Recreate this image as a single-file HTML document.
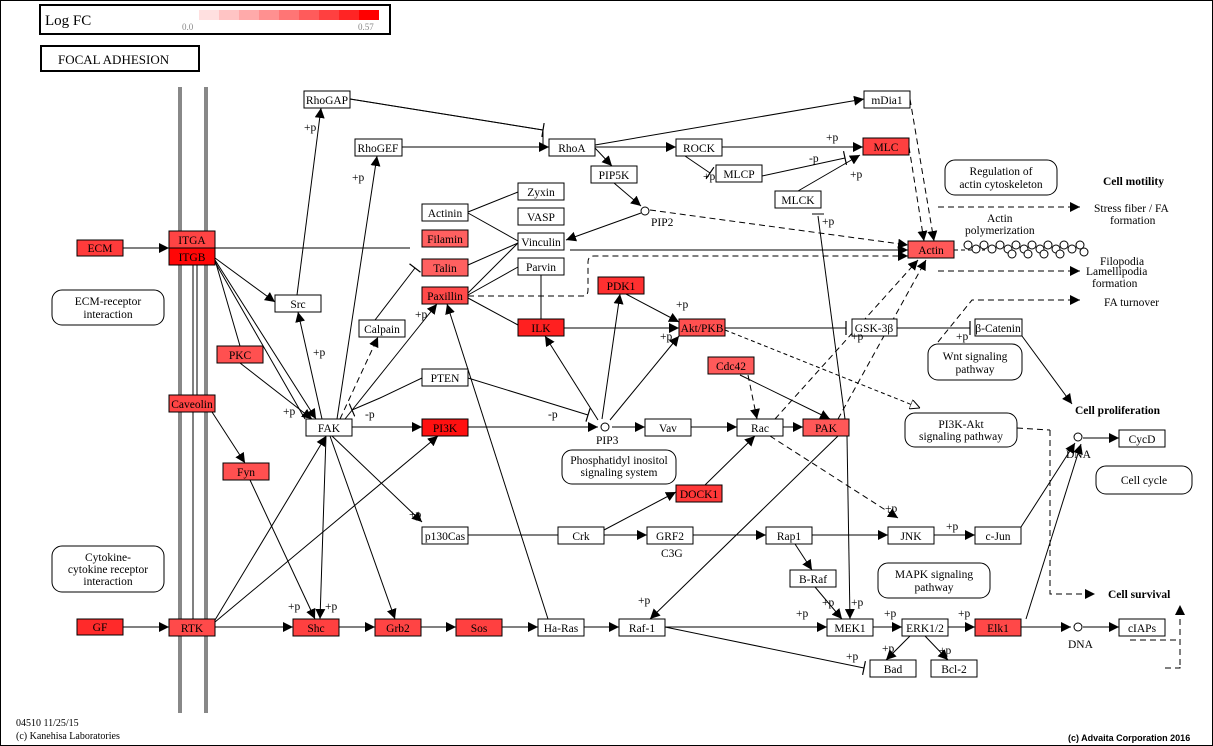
<!DOCTYPE html>
<html><head><meta charset="utf-8"><style>
html,body{margin:0;padding:0;background:#fff}
svg{display:block}
text{font-family:"Liberation Serif",serif;font-size:11.5px;fill:#000}
.b{fill:#fff;stroke:#000;stroke-width:1}
.r{stroke:#000;stroke-width:1}
.l{stroke:#000;stroke-width:1;fill:none}
.d{stroke:#000;stroke-width:1;fill:none;stroke-dasharray:6,4}
.rb{fill:#fff;stroke:#000;stroke-width:1}
</style></head><body>
<svg width="1213" height="746" viewBox="0 0 1213 746" xmlns="http://www.w3.org/2000/svg">
<defs>
<marker id="a" viewBox="0 0 10 10" refX="10" refY="5" markerWidth="10" markerHeight="10" markerUnits="userSpaceOnUse" orient="auto"><path d="M0,0L10,5L0,10z" fill="#000"/></marker>
<marker id="o" viewBox="0 0 10 10" refX="10" refY="5" markerWidth="10" markerHeight="10" markerUnits="userSpaceOnUse" orient="auto"><path d="M0,0L10,5L0,10z" fill="#fff" stroke="#000"/></marker>
<marker id="t" viewBox="0 0 4 14" refX="2" refY="7" markerWidth="4" markerHeight="14" markerUnits="userSpaceOnUse" orient="auto"><path d="M2,0L2,14" stroke="#000" stroke-width="1.2"/></marker>
</defs>
<rect x="0.5" y="0.5" width="1212" height="745" fill="#fff" stroke="#000"/>
<!-- legend -->
<rect x="40" y="5" width="350" height="29" fill="#fff" stroke="#000" stroke-width="2"/>
<text x="45" y="25" style="font-size:15px">Log FC</text>
<g>
<rect x="199" y="10" width="20" height="10" fill="#ffe0e0"/><rect x="219" y="10" width="20" height="10" fill="#ffc4c4"/><rect x="239" y="10" width="20" height="10" fill="#ffaaaa"/><rect x="259" y="10" width="20" height="10" fill="#ff9090"/><rect x="279" y="10" width="20" height="10" fill="#ff7575"/><rect x="299" y="10" width="20" height="10" fill="#ff5b5b"/><rect x="319" y="10" width="20" height="10" fill="#ff4040"/><rect x="339" y="10" width="20" height="10" fill="#ff2424"/><rect x="359" y="10" width="20" height="10" fill="#ff0000"/>
</g>
<text x="182" y="30" style="font-size:9px;fill:#888">0.0</text><text x="358" y="30" style="font-size:9px;fill:#888">0.57</text>
<rect x="41" y="46" width="158" height="25" fill="#fff" stroke="#000" stroke-width="2"/>
<text x="58" y="64" style="font-size:13px">FOCAL  ADHESION</text>
<!-- membrane -->
<rect x="178" y="87" width="4" height="626" fill="#888"/><rect x="204" y="87" width="4" height="626" fill="#888"/>
<line class="l" x1="193" y1="265" x2="193" y2="395"/><line class="l" x1="197" y1="265" x2="197" y2="395"/>
<line class="l" x1="193" y1="412" x2="193" y2="619"/>

<!-- edges -->
<g>
<line class="l" x1="123" y1="248" x2="169" y2="248" marker-end="url(#a)"/>
<line class="l" x1="215" y1="248" x2="410" y2="248"/>
<line class="l" x1="215" y1="258" x2="275" y2="302" marker-end="url(#a)"/>
<line class="l" x1="215" y1="260" x2="240" y2="346"/>
<line class="l" x1="215" y1="260" x2="316" y2="419" marker-end="url(#a)"/>
<line class="l" x1="215" y1="262" x2="305" y2="419"/>
<line class="l" x1="240" y1="363" x2="312" y2="419" marker-end="url(#a)"/>
<line class="l" x1="212" y1="412" x2="245" y2="463" marker-end="url(#a)"/>
<line class="l" x1="250" y1="480" x2="315" y2="619" marker-end="url(#a)"/>
<line class="l" x1="322" y1="419" x2="298" y2="312" marker-end="url(#a)"/>
<line class="l" x1="297" y1="295" x2="321" y2="108" marker-end="url(#a)"/>
<line class="l" x1="337" y1="419" x2="377" y2="156" marker-end="url(#a)"/>
<line class="d" x1="340" y1="419" x2="378" y2="337" marker-end="url(#a)"/>
<line class="l" x1="345" y1="419" x2="437" y2="304" marker-end="url(#a)"/>
<line class="l" x1="375" y1="320" x2="415" y2="268" marker-end="url(#t)"/>
<line class="l" x1="352" y1="427" x2="422" y2="427" marker-end="url(#a)"/>
<polyline class="l" points="422,378 380,398 352,410" marker-end="url(#t)"/>
<line class="l" x1="332" y1="436" x2="422" y2="522" marker-end="url(#a)"/>
<line class="l" x1="326" y1="436" x2="320" y2="619" marker-end="url(#a)"/>
<line class="l" x1="330" y1="436" x2="395" y2="619" marker-end="url(#a)"/>
<line class="l" x1="215" y1="620" x2="326" y2="436" marker-end="url(#a)"/>
<line class="l" x1="215" y1="622" x2="438" y2="436" marker-end="url(#a)"/>
<line class="l" x1="123" y1="627" x2="169" y2="627" marker-end="url(#a)"/>
<line class="l" x1="215" y1="627" x2="293" y2="627" marker-end="url(#a)"/>
<line class="l" x1="339" y1="627" x2="375" y2="627" marker-end="url(#a)"/>
<line class="l" x1="421" y1="627" x2="456" y2="627" marker-end="url(#a)"/>
<line class="l" x1="502" y1="627" x2="538" y2="627" marker-end="url(#a)"/>
<line class="l" x1="584" y1="627" x2="619" y2="627" marker-end="url(#a)"/>
<line class="l" x1="548" y1="619" x2="447" y2="304" marker-end="url(#a)"/>
<line class="l" x1="468" y1="535" x2="558" y2="535"/>
<line class="l" x1="604" y1="535" x2="647" y2="535" marker-end="url(#a)"/>
<line class="l" x1="693" y1="535" x2="766" y2="535" marker-end="url(#a)"/>
<line class="l" x1="812" y1="535" x2="888" y2="535" marker-end="url(#a)"/>
<line class="l" x1="934" y1="535" x2="975" y2="535" marker-end="url(#a)"/>
<line class="l" x1="1021" y1="527" x2="1075" y2="443" marker-end="url(#a)"/>
<line class="l" x1="604" y1="530" x2="676" y2="492" marker-end="url(#a)"/>
<line class="l" x1="705" y1="485" x2="755" y2="436" marker-end="url(#a)"/>
<line class="d" x1="770" y1="436" x2="898" y2="518" marker-end="url(#a)"/>
<line class="l" x1="795" y1="544" x2="812" y2="570" marker-end="url(#a)"/>
<line class="l" x1="815" y1="587" x2="842" y2="619" marker-end="url(#a)"/>
<line class="l" x1="665" y1="627" x2="827" y2="627" marker-end="url(#a)"/>
<polyline class="l" points="665,627 864,668" marker-end="url(#t)"/>
<line class="l" x1="873" y1="627" x2="902" y2="627" marker-end="url(#a)"/>
<line class="l" x1="948" y1="627" x2="975" y2="627" marker-end="url(#a)"/>
<line class="l" x1="1021" y1="627" x2="1071" y2="627" marker-end="url(#a)"/>
<line class="l" x1="1083" y1="627" x2="1119" y2="627" marker-end="url(#a)"/>
<line class="l" x1="1026" y1="619" x2="1081" y2="444" marker-end="url(#a)"/>
<line class="l" x1="910" y1="636" x2="886" y2="660" marker-end="url(#a)"/>
<line class="l" x1="925" y1="636" x2="948" y2="660" marker-end="url(#a)"/>
<line class="l" x1="838" y1="436" x2="650" y2="619" marker-end="url(#a)"/>
<line class="l" x1="847" y1="436" x2="850" y2="619" marker-end="url(#a)"/>
<line class="l" x1="818" y1="216" x2="845" y2="419"/>
<line class="l" x1="812" y1="214" x2="824" y2="214"/>
<line class="d" x1="748" y1="375" x2="757" y2="419" marker-end="url(#a)"/>
<line class="l" x1="740" y1="375" x2="830" y2="419" marker-end="url(#a)"/>
<line class="l" x1="783" y1="427" x2="803" y2="427" marker-end="url(#a)"/>
<line class="l" x1="691" y1="427" x2="737" y2="427" marker-end="url(#a)"/>
<line class="l" x1="612" y1="427" x2="645" y2="427" marker-end="url(#a)"/>
<line class="l" x1="468" y1="427" x2="598" y2="427" marker-end="url(#a)"/>
<line class="l" x1="468" y1="378" x2="588" y2="415" marker-end="url(#t)"/>
<line class="l" x1="598" y1="420" x2="545" y2="336" marker-end="url(#a)"/>
<line class="l" x1="602" y1="419" x2="620" y2="294" marker-end="url(#a)"/>
<line class="l" x1="610" y1="420" x2="679" y2="336" marker-end="url(#a)"/>
<line class="l" x1="564" y1="328" x2="679" y2="328" marker-end="url(#a)"/>
<line class="l" x1="626" y1="294" x2="679" y2="322" marker-end="url(#a)"/>
<line class="l" x1="725" y1="328" x2="846" y2="328" marker-end="url(#t)"/>
<line class="l" x1="896" y1="328" x2="970" y2="328" marker-end="url(#t)"/>
<line class="l" x1="1022" y1="336" x2="1072" y2="404" marker-end="url(#a)"/>
<line class="d" x1="725" y1="330" x2="920" y2="408" marker-end="url(#o)" style="stroke-dasharray:4,3"/>
<line class="d" x1="1017" y1="428" x2="1050" y2="430"/>
<polyline class="d" points="1050,430 1050,594 1095,594" marker-end="url(#a)"/>
<line class="d" x1="775" y1="419" x2="918" y2="260" marker-end="url(#a)"/>
<line class="d" x1="838" y1="419" x2="926" y2="260" marker-end="url(#a)"/>
<line class="d" x1="1130" y1="640" x2="1180" y2="640"/>
<line class="d" x1="1180" y1="665" x2="1180" y2="605" marker-end="url(#a)"/>
<polyline class="d" points="1165,668 1180,668 1180,660"/>
<!-- top -->
<polyline class="l" points="350,99 543,130 543,147"/>
<line class="l" x1="350" y1="99" x2="543" y2="130" marker-end="url(#t)"/>
<line class="l" x1="402" y1="147" x2="549" y2="147" marker-end="url(#a)"/>
<line class="l" x1="595" y1="147" x2="676" y2="147" marker-end="url(#a)"/>
<line class="l" x1="595" y1="145" x2="864" y2="99" marker-end="url(#a)"/>
<line class="l" x1="595" y1="148" x2="612" y2="166" marker-end="url(#a)"/>
<line class="l" x1="722" y1="147" x2="863" y2="147" marker-end="url(#a)"/>
<line class="l" x1="685" y1="156" x2="710" y2="173" marker-end="url(#t)"/>
<line class="l" x1="762" y1="176" x2="845" y2="158" marker-end="url(#t)"/>
<line class="l" x1="798" y1="191" x2="860" y2="155" marker-end="url(#a)"/>
<line class="d" x1="909" y1="147" x2="924" y2="241" marker-end="url(#a)"/>
<line class="d" x1="910" y1="99" x2="934" y2="241" marker-end="url(#a)"/>
<line class="l" x1="614" y1="183" x2="641" y2="206" marker-end="url(#a)"/>
<line class="l" x1="641" y1="213" x2="566" y2="240" marker-end="url(#a)"/>
<line class="d" x1="650" y1="210" x2="908" y2="245" marker-end="url(#a)"/>
<line class="l" x1="570" y1="250" x2="908" y2="250" marker-end="url(#a)"/>
<path class="d" d="M468,296 L583,296 Q588,296 588,290 L588,262 Q588,256 594,256 L908,256" marker-end="url(#a)"/>
<line class="l" x1="468" y1="212" x2="518" y2="192"/>
<line class="l" x1="468" y1="213" x2="518" y2="241"/>
<line class="l" x1="468" y1="265" x2="518" y2="243"/>
<line class="l" x1="468" y1="293" x2="518" y2="243"/>
<line class="l" x1="468" y1="295" x2="518" y2="267"/>
<line class="l" x1="468" y1="298" x2="518" y2="325"/>
<line class="l" x1="541" y1="275" x2="541" y2="319"/>
<line class="d" x1="954" y1="250" x2="985" y2="250" style="stroke-dasharray:4,3"/>
<line class="d" x1="938" y1="207" x2="1080" y2="207" marker-end="url(#a)"/>
<line class="d" x1="938" y1="271" x2="1080" y2="271" marker-end="url(#a)"/>
<polyline class="d" points="938,342 972,300 1080,300" marker-end="url(#a)"/>
<line class="l" x1="1083" y1="438" x2="1119" y2="438" marker-end="url(#a)"/>
</g>
<!-- actin polymerization circles -->
<g fill="#fff" stroke="#000">
<circle cx="968" cy="245" r="4"/><circle cx="976" cy="249" r="4"/><circle cx="984" cy="245" r="4"/><circle cx="992" cy="249" r="4"/><circle cx="1000" cy="245" r="4"/><circle cx="1008" cy="249" r="4"/><circle cx="1016" cy="245" r="4"/><circle cx="1024" cy="249" r="4"/><circle cx="1032" cy="245" r="4"/><circle cx="1040" cy="249" r="4"/><circle cx="1048" cy="245" r="4"/><circle cx="1056" cy="249" r="4"/><circle cx="1064" cy="245" r="4"/><circle cx="1072" cy="249" r="4"/><circle cx="1080" cy="245" r="4"/><circle cx="1084" cy="252" r="4"/><circle cx="1060" cy="254" r="4"/><circle cx="1044" cy="254" r="4"/><circle cx="1028" cy="254" r="4"/><circle cx="1012" cy="254" r="4"/>
<circle cx="645" cy="211" r="4"/><circle cx="605" cy="427" r="4"/><circle cx="1078" cy="437" r="4"/><circle cx="1078" cy="627" r="4"/>
</g>
<!-- nodes -->
<g>
<rect x="77" y="240" width="46" height="16" class="r" fill="#ff3b3b"/><text x="100" y="252" text-anchor="middle">ECM</text>
<rect x="169" y="231" width="46" height="17" class="r" fill="#ff4444"/><text x="192" y="244" text-anchor="middle">ITGA</text>
<rect x="169" y="248" width="46" height="17" class="r" fill="#ff0606"/><text x="192" y="261" text-anchor="middle">ITGB</text>
<rect x="77" y="619" width="46" height="16" class="r" fill="#ff2a2a"/><text x="100" y="631" text-anchor="middle">GF</text>
<rect x="169" y="619" width="46" height="17" class="r" fill="#ff4a4a"/><text x="192" y="632" text-anchor="middle">RTK</text>
<rect x="217" y="346" width="46" height="17" class="r" fill="#ff5050"/><text x="240" y="359" text-anchor="middle">PKC</text>
<rect x="169" y="395" width="46" height="17" class="r" fill="#ff4444"/><text x="192" y="408" text-anchor="middle">Caveolin</text>
<rect x="223" y="463" width="46" height="17" class="r" fill="#ff5050"/><text x="246" y="476" text-anchor="middle">Fyn</text>
<rect x="304" y="91" width="46" height="17" class="b"/><text x="327" y="104" text-anchor="middle">RhoGAP</text>
<rect x="355" y="139" width="47" height="17" class="b"/><text x="378" y="152" text-anchor="middle">RhoGEF</text>
<rect x="275" y="295" width="46" height="17" class="b"/><text x="298" y="308" text-anchor="middle">Src</text>
<rect x="359" y="320" width="46" height="17" class="b"/><text x="382" y="333" text-anchor="middle">Calpain</text>
<rect x="306" y="419" width="46" height="17" class="b"/><text x="329" y="432" text-anchor="middle">FAK</text>
<rect x="422" y="204" width="46" height="17" class="b"/><text x="445" y="217" text-anchor="middle">Actinin</text>
<rect x="422" y="230" width="46" height="17" class="r" fill="#ff6060"/><text x="445" y="243" text-anchor="middle">Filamin</text>
<rect x="422" y="259" width="46" height="17" class="r" fill="#ff6060"/><text x="445" y="272" text-anchor="middle">Talin</text>
<rect x="422" y="287" width="46" height="17" class="r" fill="#ff4a4a"/><text x="445" y="300" text-anchor="middle">Paxillin</text>
<rect x="422" y="369" width="46" height="17" class="b"/><text x="445" y="382" text-anchor="middle">PTEN</text>
<rect x="422" y="419" width="46" height="17" class="r" fill="#ff1010"/><text x="445" y="432" text-anchor="middle">PI3K</text>
<rect x="518" y="183" width="46" height="17" class="b"/><text x="541" y="196" text-anchor="middle">Zyxin</text>
<rect x="518" y="208" width="46" height="17" class="b"/><text x="541" y="221" text-anchor="middle">VASP</text>
<rect x="518" y="233" width="46" height="17" class="b"/><text x="541" y="246" text-anchor="middle">Vinculin</text>
<rect x="518" y="258" width="46" height="17" class="b"/><text x="541" y="271" text-anchor="middle">Parvin</text>
<rect x="518" y="319" width="46" height="17" class="r" fill="#ff2020"/><text x="541" y="332" text-anchor="middle">ILK</text>
<rect x="549" y="139" width="46" height="17" class="b"/><text x="572" y="152" text-anchor="middle">RhoA</text>
<rect x="591" y="166" width="46" height="17" class="b"/><text x="614" y="179" text-anchor="middle">PIP5K</text>
<rect x="676" y="139" width="46" height="17" class="b"/><text x="699" y="152" text-anchor="middle">ROCK</text>
<rect x="716" y="165" width="46" height="17" class="b"/><text x="739" y="178" text-anchor="middle">MLCP</text>
<rect x="863" y="138" width="46" height="17" class="r" fill="#ff4040"/><text x="886" y="151" text-anchor="middle">MLC</text>
<rect x="864" y="91" width="46" height="17" class="b"/><text x="887" y="104" text-anchor="middle">mDia1</text>
<rect x="775" y="191" width="46" height="17" class="b"/><text x="798" y="204" text-anchor="middle">MLCK</text>
<rect x="908" y="241" width="46" height="17" class="r" fill="#ff5858"/><text x="931" y="254" text-anchor="middle">Actin</text>
<rect x="598" y="277" width="46" height="17" class="r" fill="#ff3030"/><text x="621" y="290" text-anchor="middle">PDK1</text>
<rect x="679" y="319" width="46" height="17" class="r" fill="#ff5050"/><text x="702" y="332" text-anchor="middle">Akt/PKB</text>
<rect x="852" y="319" width="45" height="17" class="b"/><text x="874" y="332" text-anchor="middle">GSK-3β</text>
<rect x="975" y="319" width="47" height="17" class="b"/><text x="998" y="332" text-anchor="middle">β-Catenin</text>
<rect x="708" y="357" width="46" height="17" class="r" fill="#ff5a5a"/><text x="731" y="370" text-anchor="middle">Cdc42</text>
<rect x="645" y="419" width="46" height="17" class="b"/><text x="668" y="432" text-anchor="middle">Vav</text>
<rect x="737" y="419" width="46" height="17" class="b"/><text x="760" y="432" text-anchor="middle">Rac</text>
<rect x="803" y="419" width="46" height="17" class="r" fill="#ff5858"/><text x="826" y="432" text-anchor="middle">PAK</text>
<rect x="676" y="485" width="46" height="17" class="r" fill="#ff3838"/><text x="699" y="498" text-anchor="middle">DOCK1</text>
<rect x="422" y="527" width="46" height="17" class="b"/><text x="445" y="540" text-anchor="middle">p130Cas</text>
<rect x="558" y="527" width="46" height="17" class="b"/><text x="581" y="540" text-anchor="middle">Crk</text>
<rect x="647" y="527" width="46" height="17" class="b"/><text x="670" y="540" text-anchor="middle">GRF2</text>
<rect x="766" y="527" width="46" height="17" class="b"/><text x="789" y="540" text-anchor="middle">Rap1</text>
<rect x="888" y="527" width="46" height="17" class="b"/><text x="911" y="540" text-anchor="middle">JNK</text>
<rect x="975" y="527" width="46" height="17" class="b"/><text x="998" y="540" text-anchor="middle">c-Jun</text>
<rect x="790" y="570" width="46" height="17" class="b"/><text x="813" y="583" text-anchor="middle">B-Raf</text>
<rect x="293" y="619" width="46" height="17" class="r" fill="#ff4040"/><text x="316" y="632" text-anchor="middle">Shc</text>
<rect x="375" y="619" width="46" height="17" class="r" fill="#ff4444"/><text x="398" y="632" text-anchor="middle">Grb2</text>
<rect x="456" y="619" width="46" height="17" class="r" fill="#ff4040"/><text x="479" y="632" text-anchor="middle">Sos</text>
<rect x="538" y="619" width="46" height="17" class="b"/><text x="561" y="632" text-anchor="middle">Ha-Ras</text>
<rect x="619" y="619" width="46" height="17" class="b"/><text x="642" y="632" text-anchor="middle">Raf-1</text>
<rect x="827" y="619" width="46" height="17" class="b"/><text x="850" y="632" text-anchor="middle">MEK1</text>
<rect x="902" y="619" width="46" height="17" class="b"/><text x="925" y="632" text-anchor="middle">ERK1/2</text>
<rect x="975" y="619" width="46" height="17" class="r" fill="#ff4848"/><text x="998" y="632" text-anchor="middle">Elk1</text>
<rect x="1119" y="619" width="46" height="17" class="b"/><text x="1142" y="632" text-anchor="middle">cIAPs</text>
<rect x="870" y="660" width="46" height="17" class="b"/><text x="893" y="673" text-anchor="middle">Bad</text>
<rect x="931" y="660" width="46" height="17" class="b"/><text x="954" y="673" text-anchor="middle">Bcl-2</text>
<rect x="1119" y="430" width="46" height="17" class="b"/><text x="1142" y="443" text-anchor="middle">CycD</text>
</g>
<!-- rounded pathway boxes -->
<g>
<rect x="52" y="290" width="112" height="35" rx="10" class="rb"/><text x="108" y="305" text-anchor="middle">ECM-receptor</text><text x="108" y="318" text-anchor="middle">interaction</text>
<rect x="52" y="546" width="112" height="46" rx="10" class="rb"/><text x="108" y="561" text-anchor="middle">Cytokine-</text><text x="108" y="573" text-anchor="middle">cytokine receptor</text><text x="108" y="585" text-anchor="middle">interaction</text>
<rect x="562" y="450" width="114" height="34" rx="10" class="rb"/><text x="619" y="464" text-anchor="middle">Phosphatidyl inositol</text><text x="619" y="476" text-anchor="middle">signaling system</text>
<rect x="945" y="160" width="112" height="35" rx="10" class="rb"/><text x="1001" y="175" text-anchor="middle">Regulation of</text><text x="1001" y="188" text-anchor="middle">actin cytoskeleton</text>
<rect x="928" y="344" width="94" height="36" rx="10" class="rb"/><text x="975" y="360" text-anchor="middle">Wnt signaling</text><text x="975" y="373" text-anchor="middle">pathway</text>
<rect x="905" y="413" width="112" height="34" rx="10" class="rb"/><text x="961" y="428" text-anchor="middle">PI3K-Akt</text><text x="961" y="440" text-anchor="middle">signaling pathway</text>
<rect x="1096" y="466" width="96" height="28" rx="10" class="rb"/><text x="1144" y="484" text-anchor="middle">Cell cycle</text>
<rect x="878" y="563" width="112" height="35" rx="10" class="rb"/><text x="934" y="578" text-anchor="middle">MAPK signaling</text><text x="934" y="591" text-anchor="middle">pathway</text>
</g>
<!-- labels -->
<g>
<text x="1103" y="185" style="font-weight:bold">Cell motility</text>
<text x="1094" y="212">Stress fiber / FA</text><text x="1110" y="224">formation</text>
<text x="1100" y="265">Filopodia</text><text x="1086" y="275">Lamellipodia</text><text x="1092" y="287">formation</text>
<text x="1104" y="306">FA turnover</text>
<text x="1075" y="414" style="font-weight:bold">Cell proliferation</text>
<text x="1108" y="598" style="font-weight:bold">Cell survival</text>
<text x="987" y="222">Actin</text><text x="965" y="234">polymerization</text>
<text x="651" y="226">PIP2</text><text x="596" y="444">PIP3</text>
<text x="1066" y="458">DNA</text><text x="1068" y="648">DNA</text>
<text x="661" y="557">C3G</text>
<text x="16" y="726" style="font-size:10px">04510 11/25/15</text>
<text x="16" y="739" style="font-size:10px">(c) Kanehisa Laboratories</text>
<text x="1068" y="741" style="font-size:9px;font-weight:bold;font-family:'Liberation Sans',sans-serif">(c) Advaita Corporation 2016</text>
</g>
<g style="font-size:11px">
<text x="304" y="131">+p</text><text x="352" y="181">+p</text><text x="313" y="356">+p</text><text x="283" y="415">+p</text><text x="365" y="418">-p</text>
<text x="415" y="318">+p</text><text x="548" y="418">-p</text><text x="676" y="308">+p</text><text x="660" y="340">+p</text>
<text x="826" y="141">+p</text><text x="809" y="162">-p</text><text x="850" y="178">+p</text><text x="703" y="180">+p</text><text x="822" y="225">+p</text>
<text x="851" y="340">+p</text><text x="956" y="340">+p</text>
<text x="409" y="518">+p</text><text x="885" y="512">+p</text><text x="946" y="530">+p</text>
<text x="288" y="610">+p</text><text x="325" y="610">+p</text><text x="638" y="604">+p</text>
<text x="822" y="606">+p</text><text x="796" y="617">+p</text><text x="851" y="606">+p</text>
<text x="884" y="617">+p</text><text x="958" y="617">+p</text><text x="846" y="660">+p</text><text x="882" y="652">+p</text><text x="939" y="654">+p</text>
</g>
</svg>
</body></html>
